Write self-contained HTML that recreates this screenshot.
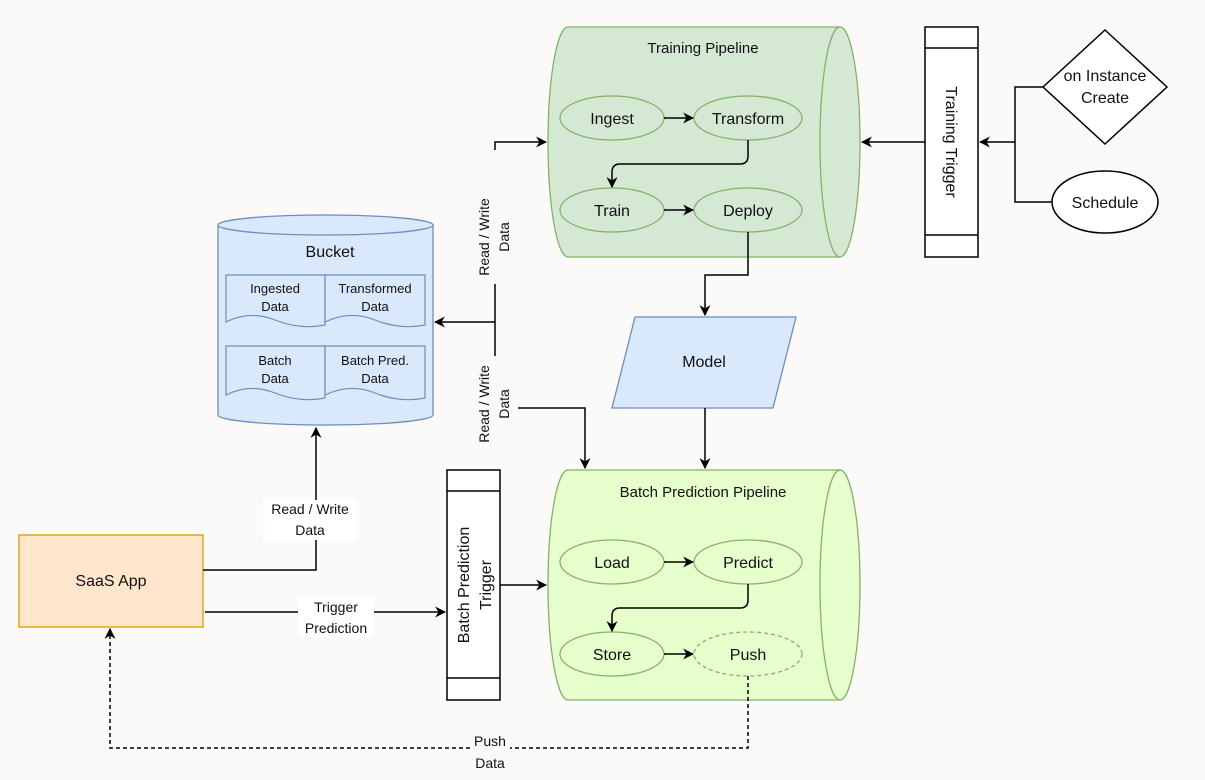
<!DOCTYPE html>
<html><head><meta charset="utf-8"><style>
html,body{margin:0;padding:0;background:#fbfaf9;}
svg{display:block;font-family:"Liberation Sans",Arial,sans-serif;}
text{fill:#111;}
</style></head><body>
<svg width="1205" height="780" viewBox="0 0 1205 780" xmlns="http://www.w3.org/2000/svg">
<defs>
<marker id="a" viewBox="0 0 10 10" refX="9" refY="5" markerWidth="11" markerHeight="11" orient="auto" markerUnits="userSpaceOnUse"><path d="M0,0 L10,5 L0,10 L3,5 Z" fill="#000"/></marker>
</defs>
<rect width="1205" height="780" fill="#fbfaf9"/>

<!-- Training pipeline -->
<path d="M568,27 L840,27 A20,115 0 0 1 840,257 L568,257 A20,115 0 0 1 568,27 Z" fill="#d5e8d4" stroke="#82b366" stroke-width="1.3"/>
<path d="M840,27 A20,115 0 0 0 840,257" fill="none" stroke="#82b366" stroke-width="1.3"/>
<text x="703" y="53" font-size="15" text-anchor="middle">Training Pipeline</text>
<g fill="#d5e8d4" stroke="#82b366" stroke-width="1.3">
<ellipse cx="612" cy="118" rx="52" ry="22"/><ellipse cx="748" cy="118" rx="54" ry="22"/>
<ellipse cx="612" cy="210" rx="52" ry="22"/><ellipse cx="748" cy="210" rx="54" ry="22"/>
</g>
<g font-size="16" text-anchor="middle">
<text x="612" y="124">Ingest</text><text x="748" y="124">Transform</text>
<text x="612" y="216">Train</text><text x="748" y="216">Deploy</text>
</g>
<g stroke="#000" stroke-width="1.5" fill="none" marker-end="url(#a)">
<line x1="664" y1="118" x2="693" y2="118"/>
<path d="M748,140 L748,156 Q748,164 740,164 L620,164 Q612,164 612,172 L612,187"/>
<line x1="664" y1="210" x2="693" y2="210"/>
</g>

<!-- Training Trigger -->
<rect x="925" y="27" width="53" height="230" fill="#fff" stroke="#000" stroke-width="1.5"/>
<line x1="925" y1="48" x2="978" y2="48" stroke="#000" stroke-width="1.5"/>
<line x1="925" y1="235" x2="978" y2="235" stroke="#000" stroke-width="1.5"/>
<text transform="translate(946,142) rotate(90)" font-size="16" text-anchor="middle">Training Trigger</text>

<polygon points="1105,30 1167,87 1105,144 1043,87" fill="#fff" stroke="#000" stroke-width="1.5"/>
<text x="1105" y="81" font-size="16" text-anchor="middle">on Instance</text>
<text x="1105" y="103" font-size="16" text-anchor="middle">Create</text>
<ellipse cx="1105" cy="202" rx="53" ry="31" fill="#fff" stroke="#000" stroke-width="1.5"/>
<text x="1105" y="208" font-size="16" text-anchor="middle">Schedule</text>
<g stroke="#000" stroke-width="1.5" fill="none">
<path d="M1043,87 L1015,87 L1015,202 L1052,202"/>
<line x1="1015" y1="142" x2="980" y2="142" marker-end="url(#a)"/>
<line x1="925" y1="142" x2="862" y2="142" marker-end="url(#a)"/>
</g>

<!-- Bucket -->
<path d="M218,225 L218,415 A107.5,10 0 0 0 433,415 L433,225" fill="#dae8fc" stroke="#6c8ebf" stroke-width="1.3"/>
<ellipse cx="325.5" cy="225" rx="107.5" ry="10" fill="#dae8fc" stroke="#6c8ebf" stroke-width="1.3"/>
<text x="330" y="257" font-size="16" text-anchor="middle">Bucket</text>
<g fill="#dae8fc" stroke="#6c8ebf" stroke-width="1.2">
<path d="M226,275 L325,275 L325,325 Q300,330 275,320 Q250,310 226,322 Z"/>
<path d="M325,275 L425,275 L425,325 Q400,330 375,320 Q350,310 325,322 Z"/>
<path d="M226,346 L325,346 L325,398 Q300,403 275,393 Q250,383 226,395 Z"/>
<path d="M325,346 L425,346 L425,398 Q400,403 375,393 Q350,383 325,395 Z"/>
</g>
<g font-size="13" text-anchor="middle">
<text x="275" y="293">Ingested</text><text x="275" y="311">Data</text>
<text x="375" y="293">Transformed</text><text x="375" y="311">Data</text>
<text x="275" y="365">Batch</text><text x="275" y="383">Data</text>
<text x="375" y="365">Batch Pred.</text><text x="375" y="383">Data</text>
</g>

<!-- Read/write connectors -->
<g stroke="#000" stroke-width="1.5" fill="none">
<path d="M495,322 L495,142 L546,142" marker-end="url(#a)"/>
<line x1="495" y1="322" x2="435" y2="322" marker-end="url(#a)"/>
<path d="M495,322 L495,408 L585,408 L585,468" marker-end="url(#a)"/>
</g>
<rect x="474" y="150" width="44" height="134" fill="#fbfaf9"/>
<text transform="translate(489,237) rotate(-90)" font-size="14" text-anchor="middle">Read / Write</text>
<text transform="translate(509,237) rotate(-90)" font-size="14" text-anchor="middle">Data</text>
<rect x="474" y="356" width="44" height="96" fill="#fbfaf9"/>
<text transform="translate(489,404) rotate(-90)" font-size="14" text-anchor="middle">Read / Write</text>
<text transform="translate(509,404) rotate(-90)" font-size="14" text-anchor="middle">Data</text>

<!-- Model -->
<polygon points="635,317 796,317 773,408 612,408" fill="#dae8fc" stroke="#6c8ebf" stroke-width="1.3"/>
<text x="704" y="367" font-size="16" text-anchor="middle">Model</text>
<g stroke="#000" stroke-width="1.5" fill="none">
<path d="M748,232 L748,275 L705,275 L705,315" marker-end="url(#a)"/>
<line x1="705" y1="408" x2="705" y2="468" marker-end="url(#a)"/>
</g>

<!-- Batch pipeline -->
<path d="M568,470 L840,470 A20,115 0 0 1 840,700 L568,700 A20,115 0 0 1 568,470 Z" fill="#e6ffcc" stroke="#82b366" stroke-width="1.3"/>
<path d="M840,470 A20,115 0 0 0 840,700" fill="none" stroke="#82b366" stroke-width="1.3"/>
<text x="703" y="497" font-size="15" text-anchor="middle">Batch Prediction Pipeline</text>
<g fill="#e6ffcc" stroke="#82b366" stroke-width="1.3">
<ellipse cx="612" cy="562" rx="52" ry="22"/><ellipse cx="748" cy="562" rx="54" ry="22"/>
<ellipse cx="612" cy="654" rx="52" ry="22"/><ellipse cx="748" cy="654" rx="54" ry="22" stroke-dasharray="4,3"/>
</g>
<g font-size="16" text-anchor="middle">
<text x="612" y="568">Load</text><text x="748" y="568">Predict</text>
<text x="612" y="660">Store</text><text x="748" y="660">Push</text>
</g>
<g stroke="#000" stroke-width="1.5" fill="none" marker-end="url(#a)">
<line x1="664" y1="562" x2="693" y2="562"/>
<path d="M748,584 L748,600 Q748,608 740,608 L620,608 Q612,608 612,616 L612,631"/>
<line x1="664" y1="654" x2="693" y2="654"/>
</g>

<!-- Batch trigger -->
<rect x="447" y="470" width="53" height="230" fill="#fff" stroke="#000" stroke-width="1.5"/>
<line x1="447" y1="491" x2="500" y2="491" stroke="#000" stroke-width="1.5"/>
<line x1="447" y1="678" x2="500" y2="678" stroke="#000" stroke-width="1.5"/>
<text transform="translate(469,585) rotate(-90)" font-size="16" text-anchor="middle">Batch Prediction</text>
<text transform="translate(491,585) rotate(-90)" font-size="16" text-anchor="middle">Trigger</text>
<line x1="500" y1="585" x2="546" y2="585" stroke="#000" stroke-width="1.5" marker-end="url(#a)"/>

<!-- SaaS -->
<rect x="19" y="535" width="184" height="92" fill="#ffe6cc" stroke="#d79b00" stroke-width="1.3"/>
<text x="111" y="586" font-size="16" text-anchor="middle">SaaS App</text>
<g stroke="#000" stroke-width="1.5" fill="none">
<path d="M203,570 L316,570 L316,428" marker-end="url(#a)"/>
<line x1="205" y1="612" x2="445" y2="612" marker-end="url(#a)"/>
<path d="M748,676 L748,748 L110,748 L110,629" stroke-dasharray="4,3" marker-end="url(#a)"/>
</g>
<rect x="263" y="500" width="94" height="40" fill="#fff"/>
<text x="310" y="514" font-size="14" text-anchor="middle">Read / Write</text>
<text x="310" y="535" font-size="14" text-anchor="middle">Data</text>
<rect x="298" y="597" width="76" height="40" fill="#fff"/>
<text x="336" y="612" font-size="14" text-anchor="middle">Trigger</text>
<text x="336" y="633" font-size="14" text-anchor="middle">Prediction</text>
<rect x="470" y="735" width="40" height="40" fill="#fbfaf9"/>
<text x="490" y="746" font-size="14" text-anchor="middle">Push</text>
<text x="490" y="768" font-size="14" text-anchor="middle">Data</text>
</svg>
</body></html>
